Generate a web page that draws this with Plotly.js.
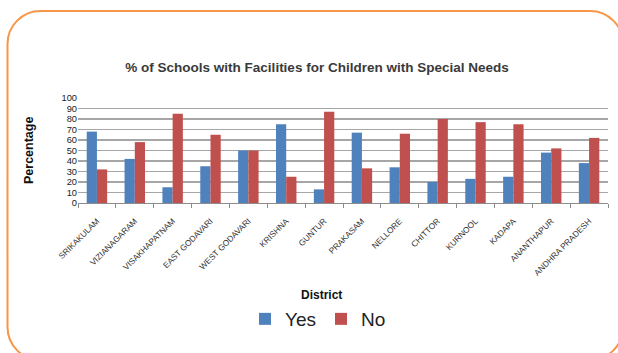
<!DOCTYPE html>
<html>
<head>
<meta charset="utf-8">
<script src="https://cdn.plot.ly/plotly-3.0.1.min.js"></script>
<style>html,body{margin:0;padding:0;background:#fff;}#chart{width:618px;height:353px;}</style>
</head>
<body>
<div id="chart"></div>
<script>
const districts = ["SRIKAKULAM","VIZIANAGARAM","VISAKHAPATNAM","EAST GODAVARI","WEST GODAVARI","KRISHNA","GUNTUR","PRAKASAM","NELLORE","CHITTOR","KURNOOL","KADAPA","ANANTHAPUR","ANDHRA PRADESH"];
const yesValues = [68, 42, 15, 35, 50, 75, 13, 67, 34, 20, 23, 25, 48, 38];
const noValues  = [32, 58, 85, 65, 50, 25, 87, 33, 66, 80, 77, 75, 52, 62];
const yTicks = [0,10,20,30,40,50,60,70,80,90,100];

const W = 618, H = 353, L = 78, R = 10, T = 98, B = 150;
const pw = W - L - R, ph = H - T - B;
const px = x => (x - L) / pw;
const py = y => (H - B - y) / ph;

function roundRect(x0, y0, x1, y1, r) {
  const k = 0.5523 * r;
  const P = (x, y) => px(x) + "," + py(y);
  return "M" + P(x0, y0 + r) +
    " C" + P(x0, y0 + r - k) + " " + P(x0 + r - k, y0) + " " + P(x0 + r, y0) +
    " L" + P(x1 - r, y0) +
    " C" + P(x1 - r + k, y0) + " " + P(x1, y0 + r - k) + " " + P(x1, y0 + r) +
    " L" + P(x1, y1 - r) +
    " C" + P(x1, y1 - r + k) + " " + P(x1 - r + k, y1) + " " + P(x1 - r, y1) +
    " L" + P(x0 + r, y1) +
    " C" + P(x0 + r - k, y1) + " " + P(x0, y1 - r + k) + " " + P(x0, y1 - r) + " Z";
}

const data = [
  {type: "bar", name: "Yes", x: districts, y: yesValues, marker: {color: "#4F81BD"}},
  {type: "bar", name: "No", x: districts, y: noValues, marker: {color: "#C0504D"}}
];

const layout = {
  width: W, height: H,
  margin: {l: L, r: R, t: T, b: B, pad: 0},
  paper_bgcolor: "#fff", plot_bgcolor: "#fff",
  barmode: "group", bargap: 0.46, bargroupgap: 0,
  font: {family: "Liberation Sans, Arial, sans-serif", color: "#222"},
  title: {text: "% of Schools with Facilities for Children with Special Needs",
    font: {size: 13.5, color: "#3a3a3a", family: "Liberation Sans, Arial, sans-serif", weight: "bold"},
    x: 0.513, xanchor: "center", y: 1 - 67 / H, yanchor: "middle"},
  xaxis: {type: "category", tickangle: -45, tickfont: {size: 8.3, color: "#333"},
    ticklabelstandoff: 9,
    showline: true, linecolor: "#8c8c8c", linewidth: 1, ticks: "outside", tickson: "boundaries",
    ticklen: 4, tickcolor: "#8c8c8c", showgrid: false, automargin: false},
  yaxis: {range: [0, 100], tickvals: yTicks, ticktext: yTicks.map(String), tickfont: {size: 9.3, color: "#222"},
    showgrid: true, gridcolor: "#a6a6a6", gridwidth: 1.5, zeroline: false, showline: false,
    ticks: "", ticklen: 0, automargin: false},
  showlegend: true,
  legend: {orientation: "h", x: px(318), xanchor: "center", y: py(319), yanchor: "middle",
    font: {size: 19, color: "#222"}, itemwidth: 30, traceorder: "normal", bgcolor: "rgba(0,0,0,0)"},
  annotations: [
    {text: "<b>Percentage</b>", xref: "paper", yref: "paper", x: px(29), y: py(151), textangle: -90,
      showarrow: false, font: {size: 12.5, color: "#111"}, xanchor: "center", yanchor: "middle"},
    {text: "<b>District</b>", xref: "paper", yref: "paper", x: px(321), y: py(295),
      showarrow: false, font: {size: 12, color: "#111"}, xanchor: "center", yanchor: "middle"}
  ],
  shapes: [
    {type: "path", xref: "paper", yref: "paper", path: roundRect(7.5, 11, 623, 360, 33),
      line: {color: "#F79646", width: 2}, fillcolor: "rgba(0,0,0,0)", layer: "below"}
  ]
};

Plotly.newPlot("chart", data, layout, {displayModeBar: false, staticPlot: true});
</script>
</body>
</html>
